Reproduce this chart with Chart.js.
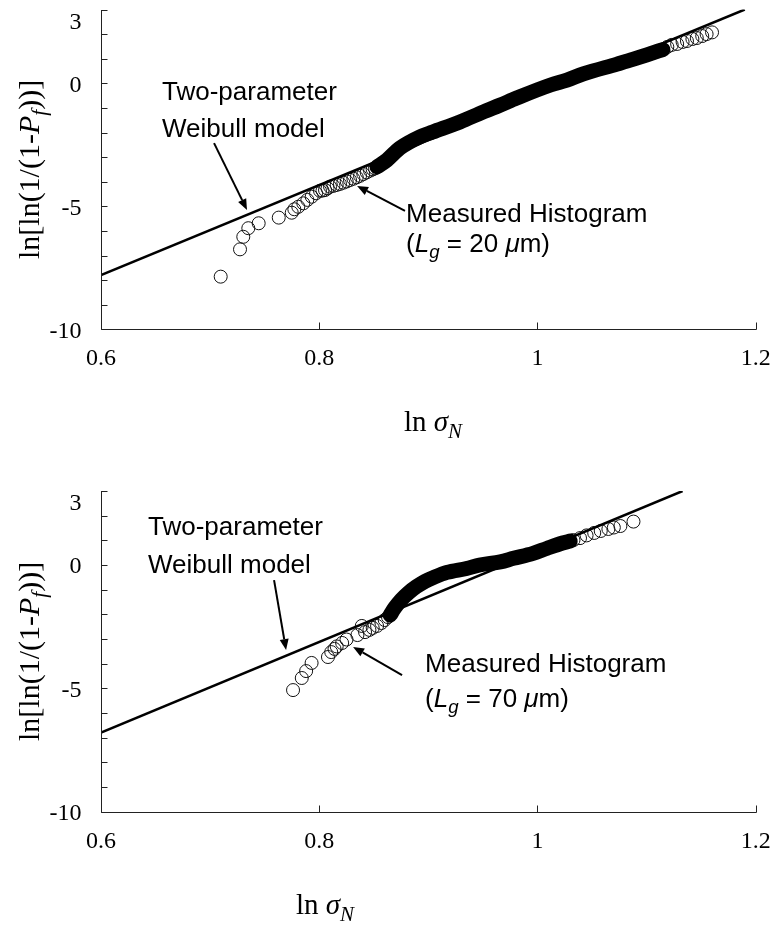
<!DOCTYPE html>
<html>
<head>
<meta charset="utf-8">
<script src="https://cdn.jsdelivr.net/npm/chart.js@4.4.1/dist/chart.umd.min.js"></script>
<style>
  html, body { margin: 0; padding: 0; background: #fff; }
  #wrap { position: relative; width: 774px; height: 937px; }
  canvas { position: absolute; left: 0; }
</style>
</head>
<body>
<div id="wrap">
  <canvas id="top" width="774" height="468" style="top:0"></canvas>
  <canvas id="bottom" width="774" height="469" style="top:468px"></canvas>
</div>
<script>
// axis ticks (ln sigma_N on x, Weibull variate on y)
const xTicks = [0.6, 0.8, 1, 1.2];
const yTicks = [-10, -5, 0, 3];

// Lg = 20 um : separate markers (low tail, start of the cluster, upper tail)
const lg20CircleX = [0.7097, 0.7274, 0.7304, 0.7350, 0.7445, 0.7629, 0.7748, 0.7772, 0.7808, 0.7854,
  0.7891, 0.7931, 0.7971, 0.8007, 0.8030, 0.8053, 0.8076, 0.8099, 0.8130, 0.8160, 0.8190, 0.8221, 0.8252,
  0.8282, 0.8313, 0.8344, 0.8374, 0.8404, 0.8435, 0.8466, 0.8490, 0.8511,
  1.119, 1.123, 1.128, 1.133, 1.137, 1.142, 1.146, 1.151, 1.155, 1.160];
const lg20CircleY = [-7.86, -6.75, -6.24, -5.89, -5.69, -5.46, -5.26, -5.12, -5.02, -4.88,
  -4.74, -4.61, -4.47, -4.37, -4.36, -4.34, -4.27, -4.20, -4.17, -4.13, -4.09, -4.04, -3.99,
  -3.93, -3.88, -3.82, -3.76, -3.69, -3.62, -3.55, -3.50, -3.46,
  1.48, 1.56, 1.60, 1.68, 1.72, 1.80, 1.84, 1.92, 2.00, 2.07];
// Lg = 20 um : centre of the dense run of overlapping markers
const lg20BandX = [0.853, 0.862, 0.874, 0.892, 0.904, 0.929, 0.950, 0.966, 0.981, 1.012, 1.027, 1.042, 1.073, 1.088, 1.103, 1.115];
const lg20BandY = [-3.40, -3.12, -2.63, -2.18, -1.98, -1.57, -1.17, -0.88, -0.60, -0.07, 0.13, 0.38, 0.78, 0.98, 1.20, 1.37];
// two-parameter Weibull fit
const lg20FitX = [0.6, 1.19];
const lg20FitY = [-7.8, 3.0];

// Lg = 70 um
const lg70CircleX = [0.776, 0.784, 0.788, 0.793, 0.808, 0.811, 0.814, 0.816, 0.821, 0.825, 0.835, 0.839,
  0.842, 0.846, 0.849, 0.853, 0.857, 0.860, 0.863,
  1.033, 1.039, 1.045, 1.052, 1.058, 1.065, 1.070, 1.076, 1.088];
const lg70CircleY = [-5.07, -4.58, -4.30, -3.97, -3.73, -3.53, -3.40, -3.30, -3.16, -3.02, -2.84, -2.47,
  -2.72, -2.63, -2.55, -2.47, -2.35, -2.23, -2.11,
  1.01, 1.09, 1.20, 1.30, 1.38, 1.46, 1.52, 1.58, 1.76];
const lg70BandX = [0.865, 0.869, 0.875, 0.882, 0.889, 0.897, 0.905, 0.917, 0.935, 0.947, 0.966, 0.978, 0.996, 1.009, 1.023, 1.030];
const lg70BandY = [-2.03, -1.75, -1.42, -1.12, -0.88, -0.66, -0.50, -0.30, -0.14, 0.0, 0.13, 0.27, 0.47, 0.68, 0.89, 0.97];
const lg70FitX = [0.6, 1.133];
const lg70FitY = [-6.79, 3.0];

const SERIF = '"Liberation Serif", "Times New Roman", serif';
const SANS = '"Liberation Sans", Arial, sans-serif';

function pairs(xs, ys) {
  return xs.map((x, i) => ({ x: x, y: ys[i] }));
}

// draw a row of text pieces (italic / subscript) starting at x, or centred on x
function drawRuns(ctx, runs, x, y, size, family, center) {
  let total = 0;
  const parts = runs.map(r => {
    const s = r.sub ? size * 0.72 : size;
    const font = (r.italic ? 'italic ' : '') + s + 'px ' + family;
    ctx.font = font;
    const w = ctx.measureText(r.t).width;
    total += w;
    return { t: r.t, font: font, w: w, dy: r.sub ? size * 0.24 : 0 };
  });
  let cx = center ? x - total / 2 : x;
  ctx.textAlign = 'left';
  ctx.textBaseline = 'alphabetic';
  parts.forEach(p => {
    ctx.font = p.font;
    ctx.fillText(p.t, cx, y + p.dy);
    cx += p.w;
  });
}

function arrow(ctx, x1, y1, x2, y2) {
  const a = Math.atan2(y2 - y1, x2 - x1);
  const len = 11, half = 4.5;
  const bx = x2 - len * Math.cos(a), by = y2 - len * Math.sin(a);
  ctx.beginPath();
  ctx.moveTo(x1, y1);
  ctx.lineTo(bx, by);
  ctx.lineWidth = 2;
  ctx.strokeStyle = '#000';
  ctx.stroke();
  ctx.beginPath();
  ctx.moveTo(x2, y2);
  ctx.lineTo(bx + half * Math.sin(a), by - half * Math.cos(a));
  ctx.lineTo(bx - half * Math.sin(a), by + half * Math.cos(a));
  ctx.closePath();
  ctx.fillStyle = '#000';
  ctx.fill();
}

const yTitleRuns = [
  { t: 'ln[ln(1/(1-' }, { t: 'P', italic: true }, { t: 'f', italic: true, sub: true }, { t: '))]' }
];
const xTitleRuns = [
  { t: 'ln ' }, { t: 'σ', italic: true }, { t: 'N', italic: true, sub: true }
];

// axes, tick labels, titles and call-outs
const frame = {
  id: 'frame',
  afterDraw(chart, args, opts) {
    const ctx = chart.ctx;
    const xs = chart.scales.x, ys = chart.scales.y;
    const a = chart.chartArea;
    const left = Math.round(a.left) + 0.5;
    const bottom = Math.round(a.bottom) + 0.5;
    ctx.save();
    ctx.strokeStyle = '#222';
    ctx.lineWidth = 1;
    ctx.beginPath();
    ctx.moveTo(left, Math.round(a.top));
    ctx.lineTo(left, bottom);
    ctx.lineTo(Math.round(xs.getPixelForValue(1.2)) + 0.5, bottom);
    for (let v = -10; v <= 3; v++) {
      const py = Math.round(ys.getPixelForValue(v)) + 0.5;
      ctx.moveTo(left, py);
      ctx.lineTo(left + 6, py);
    }
    xTicks.forEach(v => {
      const px = Math.round(xs.getPixelForValue(v)) + 0.5;
      ctx.moveTo(px, bottom);
      ctx.lineTo(px, bottom - 7);
    });
    ctx.stroke();

    ctx.fillStyle = '#000';
    ctx.font = '24px ' + SERIF;
    ctx.textAlign = 'right';
    ctx.textBaseline = 'middle';
    yTicks.forEach(v => {
      const py = ys.getPixelForValue(v) + (v === 3 ? 13 : 2);
      ctx.fillText(String(v), left - 20, py);
    });
    ctx.textAlign = 'center';
    xTicks.forEach(v => {
      ctx.fillText(String(v), xs.getPixelForValue(v), bottom + 29);
    });

    // y title, rotated
    ctx.save();
    ctx.translate(39, (a.top + a.bottom) / 2);
    ctx.rotate(-Math.PI / 2);
    drawRuns(ctx, yTitleRuns, 0, 0, 30, SERIF, true);
    ctx.restore();

    drawRuns(ctx, xTitleRuns, opts.xTitle.cx, opts.xTitle.base, 29, SERIF, true);

    opts.notes.forEach(n => {
      n.lines.forEach(l => {
        drawRuns(ctx, l.runs, xs.getPixelForValue(n.x), ys.getPixelForValue(l.y), 26, SANS, false);
      });
      arrow(ctx, xs.getPixelForValue(n.from[0]), ys.getPixelForValue(n.from[1]),
        xs.getPixelForValue(n.to[0]), ys.getPixelForValue(n.to[1]));
    });
    ctx.restore();
  }
};

function makeChart(id, s, padding, xTitle, notes) {
  return new Chart(document.getElementById(id), {
    type: 'scatter',
    data: {
      datasets: [
        {
          label: 'Two-parameter Weibull model',
          data: pairs(s.fitX, s.fitY),
          showLine: true,
          borderColor: '#000',
          borderWidth: 2.5,
          pointRadius: 0
        },
        {
          label: 'Measured Histogram',
          data: pairs(s.bandX, s.bandY),
          showLine: true,
          borderColor: '#000',
          borderWidth: 15,
          borderCapStyle: 'round',
          borderJoinStyle: 'round',
          cubicInterpolationMode: 'monotone',
          pointRadius: 0
        },
        {
          label: 'Measured Histogram (markers)',
          data: pairs(s.circleX, s.circleY),
          pointStyle: 'circle',
          pointRadius: 6.5,
          borderWidth: 1,
          borderColor: '#111',
          backgroundColor: 'rgba(0,0,0,0)'
        }
      ]
    },
    options: {
      responsive: false,
      animation: false,
      events: [],
      layout: { padding: padding },
      plugins: {
        legend: { display: false },
        tooltip: { enabled: false },
        frame: { xTitle: xTitle, notes: notes }
      },
      scales: {
        x: { type: 'linear', min: 0.6, max: 1.2, display: false },
        y: { type: 'linear', min: -10, max: 3, display: false }
      }
    },
    plugins: [frame]
  });
}

makeChart('top',
  { fitX: lg20FitX, fitY: lg20FitY, bandX: lg20BandX, bandY: lg20BandY, circleX: lg20CircleX, circleY: lg20CircleY },
  { left: 101, top: 9.5, right: 18.3, bottom: 138.7 },
  { cx: 433, base: 431 },
  [
    { x: 0.6559, lines: [{ y: -0.68, runs: [{ t: 'Two-parameter' }] }, { y: -2.18, runs: [{ t: 'Weibull model' }] }],
      from: [0.7036, -2.43], to: [0.7338, -5.15] },
    { x: 0.8796, lines: [
        { y: -5.65, runs: [{ t: 'Measured Histogram' }] },
        { y: -6.85, runs: [{ t: '(' }, { t: 'L', italic: true }, { t: 'g', italic: true, sub: true }, { t: ' = 20 ' }, { t: 'μ', italic: true }, { t: 'm)' }] }
      ],
      from: [0.8786, -5.19], to: [0.8347, -4.17] }
  ]);

makeChart('bottom',
  { fitX: lg70FitX, fitY: lg70FitY, bandX: lg70BandX, bandY: lg70BandY, circleX: lg70CircleX, circleY: lg70CircleY },
  { left: 101, top: 23, right: 18.3, bottom: 125.3 },
  { cx: 325, base: 446 },
  [
    { x: 0.6431, lines: [{ y: 1.22, runs: [{ t: 'Two-parameter' }] }, { y: -0.32, runs: [{ t: 'Weibull model' }] }],
      from: [0.7586, -0.61], to: [0.7696, -3.45] },
    { x: 0.8970, lines: [
        { y: -4.32, runs: [{ t: 'Measured Histogram' }] },
        { y: -5.74, runs: [{ t: '(' }, { t: 'L', italic: true }, { t: 'g', italic: true, sub: true }, { t: ' = 70 ' }, { t: 'μ', italic: true }, { t: 'm)' }] }
      ],
      from: [0.8759, -4.46], to: [0.8310, -3.32] }
  ]);
</script>
</body>
</html>
